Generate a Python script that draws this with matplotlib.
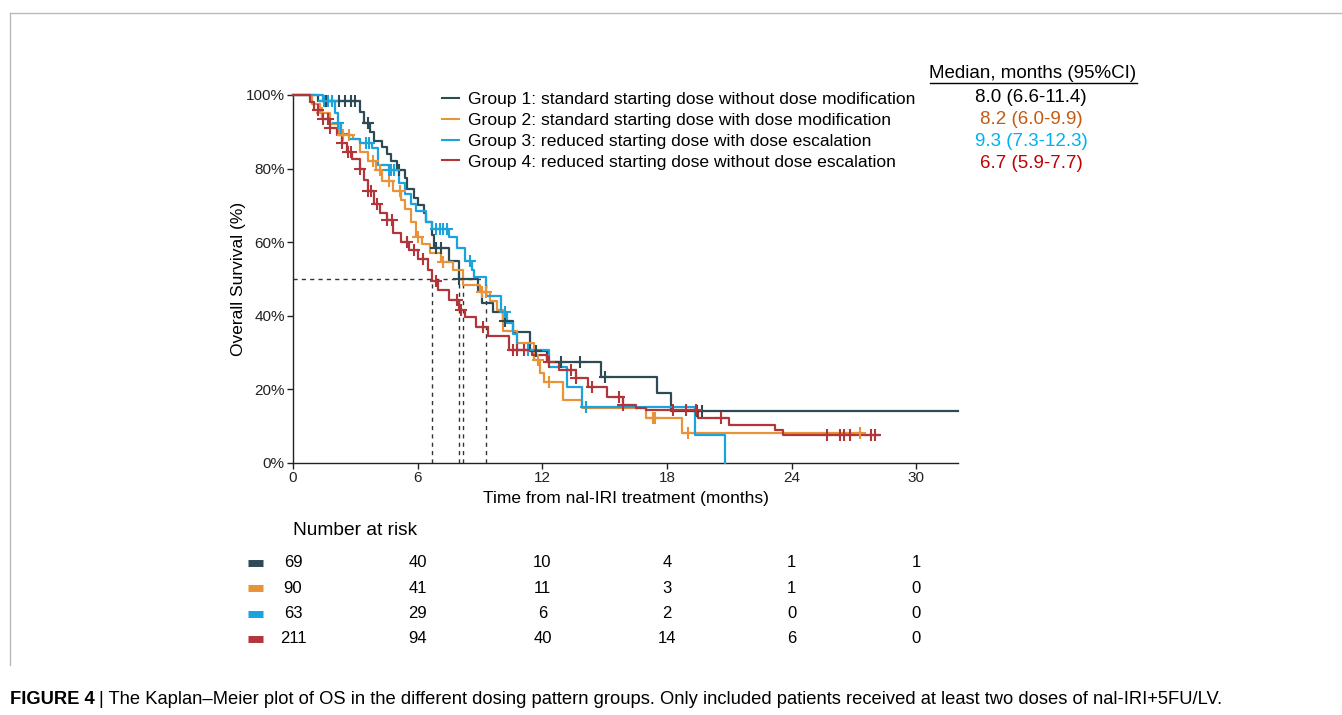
import numpy as np
import matplotlib.pyplot as plt
from matplotlib.lines import Line2D

plt.rcParams['font.family'] = ['Liberation Sans', 'DejaVu Sans']

# Groups, colours and medians
labels = [
    'Group 1: standard starting dose without dose modification',
    'Group 2: standard starting dose with dose modification',
    'Group 3: reduced starting dose with dose escalation',
    'Group 4: reduced starting dose without dose escalation',
]
colors = ['#2E4A55', '#E8923A', '#1AA3DC', '#B2353A']
medians = [8.0, 8.2, 9.3, 6.7]
median_text = ['8.0 (6.6-11.4)', '8.2 (6.0-9.9)', '9.3 (7.3-12.3)', '6.7 (5.9-7.7)']
median_colors = ['#000000', '#C55A11', '#00B0F0', '#C00000']

# Kaplan-Meier steps (months, % surviving)
g1_t = [0, 1.2, 3.2, 3.4, 3.7, 3.9, 4.3, 4.5, 4.7, 5.0, 5.4, 5.5, 5.8, 6.0, 6.3, 6.4,
        6.7, 6.8, 7.5, 8.0, 8.9, 9.1, 9.6, 10.1, 10.6, 11.4, 12.2, 14.8, 17.5, 18.2]
g1_s = [100, 98.5, 95.5, 92.5, 90, 87.5, 86, 84, 82, 79.5, 77.5, 74.5, 72, 70, 68, 65.5,
        62, 58.5, 55, 50, 47, 43.5, 41, 38.5, 35.5, 30.5, 27.5, 23.5, 19, 14.2]
g1_end = 32
g1_cens = [1.6, 1.9, 2.2, 2.5, 2.8, 3.0, 3.6, 5.1, 6.9, 7.1, 8.0, 10.2, 11.7, 12.9,
           13.8, 15.0, 19.45, 19.7]

g2_t = [0, 0.9, 1.3, 1.8, 2.2, 2.9, 3.2, 3.6, 4.0, 4.3, 4.8, 5.2, 5.4, 5.7, 5.9, 6.2,
        6.6, 7.1, 7.7, 8.2, 9.0, 9.5, 9.8, 10.1, 10.8, 11.6, 11.9, 12.1, 13.0, 13.9,
        17.0, 18.7]
g2_s = [100, 97.5, 95, 92, 89, 88, 84.5, 82, 79.5, 76.5, 74, 71.5, 69, 65.5, 61.5, 59.5,
        57, 54.5, 52.5, 48.5, 46.5, 44, 41.5, 36, 32.5, 28, 24.5, 22, 17, 15,
        12.2, 8.2]
g2_end = 27.3
g2_cens = [1.4, 2.4, 2.7, 3.85, 4.2, 4.6, 5.15, 6.0, 7.2, 9.1, 9.3, 11.8, 12.3,
           17.3, 17.4, 19.0, 27.3]

g3_t = [0, 1.45, 2.0, 2.15, 2.3, 2.7, 3.2, 3.8, 4.1, 4.6, 5.1, 5.4, 5.7, 5.9, 6.4, 6.7,
        7.5, 7.9, 8.3, 8.6, 8.7, 9.3, 10.0, 10.3, 10.6, 10.8, 12.3, 13.2, 13.9, 19.35, 20.8]
g3_s = [100, 98.5, 95, 92.5, 89.5, 88, 87, 85.5, 81, 79.5, 76, 73, 70.5, 68.5, 65.5, 63.5,
        61.5, 58.5, 55, 52.5, 50.5, 45.5, 41, 38, 35, 30.7, 26, 20.7, 15.2, 7.6, 0]
g3_end = 20.8
g3_cens = [1.5, 1.7, 1.9, 2.15, 3.5, 3.65, 4.6, 4.7, 4.85, 6.9, 7.05, 7.2, 7.4, 8.5,
           10.2, 11.3, 14.1]

g4_t = [0, 0.8, 1.0, 1.4, 1.8, 2.1, 2.35, 2.6, 2.85, 3.2, 3.4, 3.6, 3.9, 4.2, 4.5, 4.8,
        5.2, 5.6, 6.0, 6.5, 6.7, 7.0, 7.5, 8.0, 8.3, 8.8, 9.4, 10.4, 11.5, 12.2, 12.8,
        13.6, 14.2, 15.1, 15.9, 16.5, 17.0, 19.5, 21.0, 23.2, 23.6]
g4_s = [100, 98, 96, 93.5, 91, 89, 87, 84.5, 82.5, 80, 77, 74, 70.5, 68, 66, 62.5,
        60, 58, 55.5, 52.5, 49.5, 47, 44.3, 41.6, 39.7, 37, 34.5, 30.7, 29.3, 27.4, 25.3,
        23.1, 20.7, 17.9, 15.8, 15, 14.4, 12.2, 10.3, 9, 7.6]
g4_end = 28.2
g4_cens = [1.2, 1.45, 1.7, 1.8, 2.35, 2.65, 2.8, 3.2, 3.6, 3.75, 4.05, 4.5, 4.75, 5.5,
           5.8, 6.25, 6.9, 7.9, 8.1, 9.15, 10.6, 10.8, 11.1, 12.3, 13.4, 13.6, 14.4,
           15.7, 15.9, 18.3, 18.9, 19.4, 20.6, 25.7, 26.3, 26.5, 26.8, 27.8, 28.0]

# Number at risk
risk_times = [0, 6, 12, 18, 24, 30]
risk_g1 = [69, 40, 10, 4, 1, 1]
risk_g2 = [90, 41, 11, 3, 1, 0]
risk_g3 = [63, 29, 6, 2, 0, 0]
risk_g4 = [211, 94, 40, 14, 6, 0]

curves = [(g1_t, g1_s, g1_end, g1_cens), (g2_t, g2_s, g2_end, g2_cens),
          (g3_t, g3_s, g3_end, g3_cens), (g4_t, g4_s, g4_end, g4_cens)]
risks = [risk_g1, risk_g2, risk_g3, risk_g4]

W, H = 1342, 715
fig = plt.figure(figsize=(W / 100, H / 100), dpi=100)

# main plot
ax = fig.add_axes([293 / W, 1 - 463 / H, (958 - 293) / W, (463 - 95) / H])
for (t, s, end, cens), col in zip(curves, colors):
    t = np.array(t, float)
    s = np.array(s, float)
    ax.step(np.append(t, end), np.append(s, s[-1]), where='post', color=col, lw=1.6,
            clip_on=False, zorder=3)
    # censored patients sit on the curve
    idx = np.searchsorted(t, cens, side='right') - 1
    ax.plot(cens, s[idx], ls='none', marker='+', ms=8, mew=1.5, color=col,
            clip_on=False, zorder=4)

# median guide lines
ax.plot([0, max(medians)], [50, 50], color='#333333', lw=1, ls=(0, (3, 3)), zorder=2)
for m in medians:
    ax.plot([m, m], [0, 50], color='#333333', lw=1, ls=(0, (3, 3)), zorder=2)

ax.set_xlim(0, 32)
ax.set_ylim(0, 100)
ax.set_xticks(risk_times)
ax.set_yticks([0, 20, 40, 60, 80, 100])
ax.set_yticklabels([f'{v}%' for v in [0, 20, 40, 60, 80, 100]])
ax.tick_params(labelsize=11, length=4, width=1, colors='#222222', pad=2)
for side in ['top', 'right']:
    ax.spines[side].set_visible(False)
for side in ['left', 'bottom']:
    ax.spines[side].set_linewidth(1)
    ax.spines[side].set_color('#222222')
ax.set_xlabel('Time from nal-IRI treatment (months)', fontsize=12.5, labelpad=4)
ax.set_ylabel('Overall Survival (%)', fontsize=12.5, labelpad=0)

handles = [Line2D([], [], color=c, lw=1.5) for c in colors]
ax.legend(handles, labels, loc='upper left', bbox_to_anchor=(433 / W, 1 - 83 / H),
          bbox_transform=fig.transFigure, frameon=False, fontsize=12.6, handlelength=1.0,
          handletextpad=0.5, labelspacing=0.32, borderpad=0)

# median column
fig.text(1033 / W, 1 - 74 / H, 'Median, months (95%CI)', fontsize=13.5, ha='center',
         va='center')
fig.add_artist(Line2D([930 / W, 1137 / W], [1 - 83 / H, 1 - 83 / H], color='black', lw=1))
for i, (txt, col) in enumerate(zip(median_text, median_colors)):
    fig.text(1031 / W, 1 - (98 + 21.8 * i) / H, txt, fontsize=13.5, color=col, ha='center',
             va='center')

# number at risk table
ax2 = fig.add_axes([293 / W, 1 - 655 / H, (958 - 293) / W, 135 / H])
ax2.set_xlim(0, 32)
ax2.set_ylim(3.64, -1.70)
ax2.axis('off')
ax2.text(0, -1.30, 'Number at risk', fontsize=13.8, ha='left', va='center')
for i, (row, col) in enumerate(zip(risks, colors)):
    ax2.plot([-2.15, -1.45], [i, i], color=col, lw=5, solid_capstyle='butt', clip_on=False)
    for t, n in zip(risk_times, row):
        ax2.text(t, i, str(n), fontsize=12, ha='center', va='center')

# frame lines of the figure panel
fig.add_artist(Line2D([10 / W, 1], [1 - 13 / H, 1 - 13 / H], color='#BBBBBB', lw=1))
fig.add_artist(Line2D([10 / W, 10 / W], [1 - 13 / H, 1 - 665 / H], color='#BBBBBB', lw=1))

# caption
fig.text(10 / W, 1 - 700 / H, 'FIGURE 4', fontsize=13.2, weight='bold', va='center')
fig.text(99 / W, 1 - 700 / H,
         '| The Kaplan\u2013Meier plot of OS in the different dosing pattern groups. '
         'Only included patients received at least two doses of nal-IRI+5FU/LV.',
         fontsize=13.2, va='center')

fig.savefig('out.png', dpi=100)
